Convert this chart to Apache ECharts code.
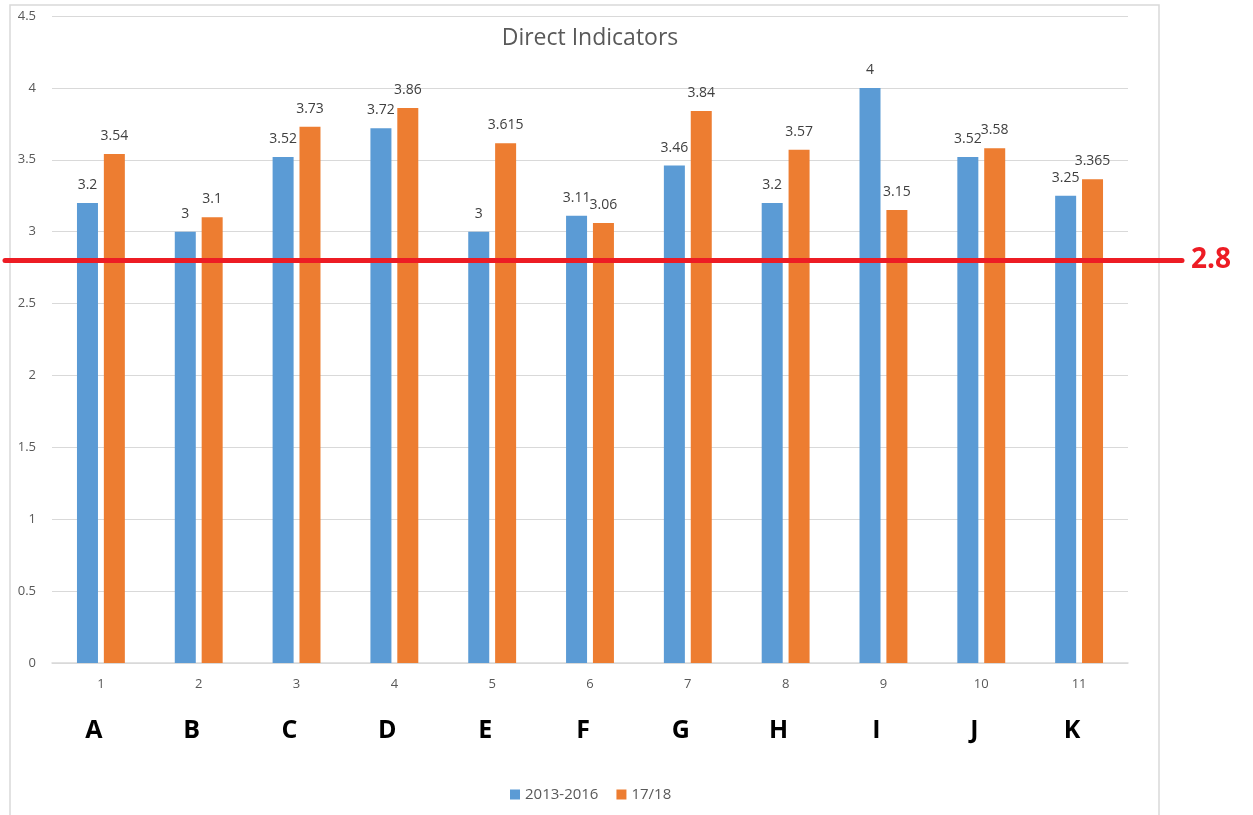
<!DOCTYPE html>
<html><head><meta charset="utf-8">
<script src="https://cdn.jsdelivr.net/npm/echarts@6/dist/echarts.min.js"></script>
<style>html,body{margin:0;padding:0;background:#fff}#c{width:1253px;height:815px}</style>
</head><body><div id="c"></div>
<script>
const categories = ['1','2','3','4','5','6','7','8','9','10','11'];
const letters = ['A','B','C','D','E','F','G','H','I','J','K'];
const series2013 = [3.2,3,3.52,3.72,3,3.11,3.46,3.2,4,3.52,3.25];
const series1718 = [3.54,3.1,3.73,3.86,3.615,3.06,3.84,3.57,3.15,3.58,3.365];
const threshold = 2.8;
const yTicks = [0,0.5,1,1.5,2,2.5,3,3.5,4,4.5];

const chart = echarts.init(document.getElementById('c'));
const font = "'Open Sans', 'Liberation Sans', sans-serif";
const lbl = {show:true, position:'top', color:'#404040', fontSize:14, fontFamily:font, distance:11};
chart.setOption({
  animation:false,
  title:{text:'Direct Indicators', left:585, top:22, textAlign:'center', textStyle:{color:'#595959', fontSize:23, fontWeight:'normal', fontFamily:font}},
  legend:{bottom:8, left:505, itemWidth:10, itemHeight:10, icon:'rect', itemGap:18, textStyle:{color:'#595959', fontSize:15, fontFamily:font}, data:['2013-2016','17/18']},
  grid:{left:52, right:125, top:16, bottom:152},
  xAxis:{type:'category', data:categories, axisTick:{show:false}, axisLine:{lineStyle:{color:'#d9d9d9', width:1.5}},
    axisLabel:{margin:12, formatter:(v,i)=>'{n|'+v+'}\n{l|'+letters[i]+'}',
      rich:{n:{color:'#595959', fontSize:13, fontFamily:font, lineHeight:18}, l:{color:'#000', fontSize:25, fontWeight:'bold', fontFamily:font, lineHeight:50, verticalAlign:'bottom', padding:[0,14,0,0]}}}},
  yAxis:{type:'value', min:0, max:4.5, interval:0.5, axisLine:{show:false}, axisTick:{show:false},
    axisLabel:{color:'#595959', fontSize:13, fontFamily:font, margin:16, formatter:v=>String(yTicks[Math.round(v*2)])},
    splitLine:{lineStyle:{color:'#d9d9d9', width:1.2}}},
  series:[
    {name:'2013-2016', type:'bar', data:series2013, barWidth:21, barGap:'28%', itemStyle:{color:'#5b9bd5'}, label:lbl},
    {name:'17/18', type:'bar', data:series1718, barWidth:21, itemStyle:{color:'#ed7d31'}, label:lbl}
  ]
});
const yPix = chart.convertToPixel({yAxisIndex:0}, threshold);
chart.setOption({graphic:[
  {type:'rect', shape:{x:10, y:5, width:1149, height:820}, style:{fill:'none', stroke:'#d9d9d9', lineWidth:1.5}, silent:true},
  {type:'line', shape:{x1:5, y1:yPix, x2:1182, y2:yPix}, style:{stroke:'#ed1c24', lineWidth:5, lineCap:'round'}, z:100},
  {type:'text', x:1191, y:yPix, style:{text:String(threshold), fill:'#ed1c24', font:'bold 28px '+font, textVerticalAlign:'middle'}, z:100}
]});
</script></body></html>
